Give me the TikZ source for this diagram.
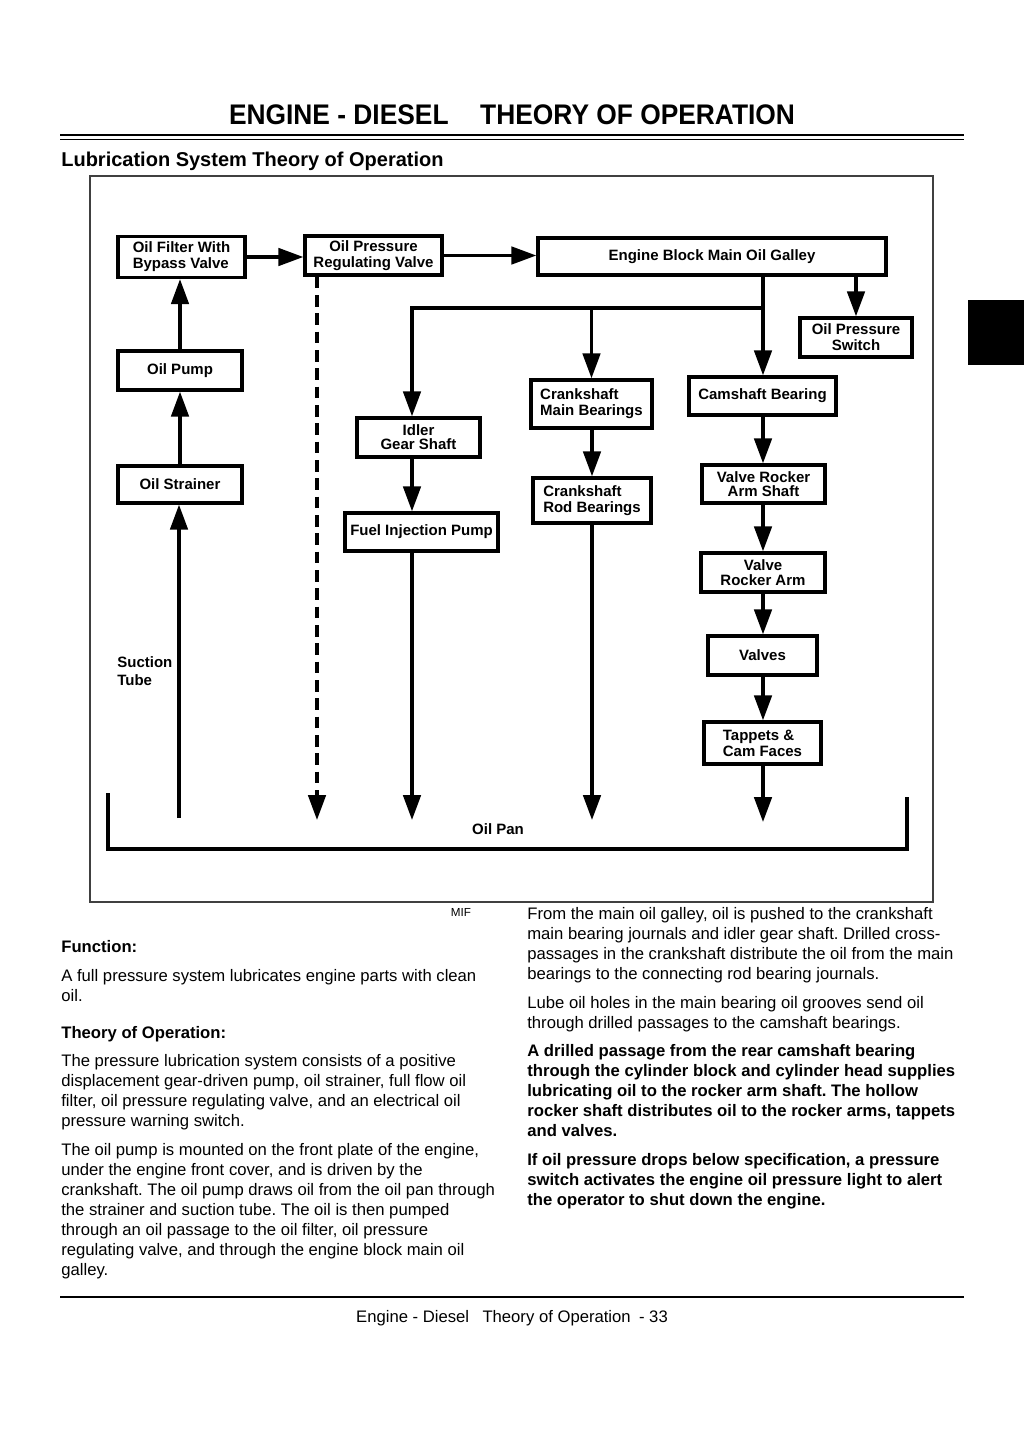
\documentclass[tikz,border=0pt]{standalone}
\usepackage{fontspec}
\setmainfont{Liberation Sans}
\usepackage{graphicx}
\usetikzlibrary{arrows.meta,positioning}
\frenchspacing

\begin{document}
\begin{tikzpicture}[
        x=0.6pt, y=-0.6pt,
        box/.style={draw, line width=2pt, rectangle, inner sep=2pt, align=center,
            font=\fontsize{9}{9.6}\selectfont\bfseries},
        size/.style 2 args={minimum width=#1*0.6pt, minimum height=#2*0.6pt},
        flow/.style={line width=2pt, -{Triangle[length=15pt,width=10.5pt]}},
        para/.style={anchor=north west, align=left, inner sep=0pt,
            font=\fontsize{10}{12}\selectfont},
        tag/.style={font=\fontsize{9}{10.8}\selectfont\bfseries, inner sep=0pt}]

        \useasboundingbox (0,0) rectangle (1024,1449);

        % page header
        \node[font=\fontsize{17}{20}\selectfont\bfseries] (title) at (512,115)
            {\scalebox{0.93}[1]{ENGINE - DIESEL\hspace{1.2em}THEORY OF OPERATION}};
        \draw[line width=1.4pt] (60,135) -- (964,135);
        \draw[line width=1.1pt] (60,139.5) -- (964,139.5);
        \node[font=\fontsize{12}{14}\selectfont\bfseries, anchor=west, inner sep=0pt] (subtitle) at (61,161)
            {Lubrication System Theory of Operation};
        \fill (968,300) rectangle (1024,365);

        % figure frame
        \draw[line width=0.8pt, black!75] (90,176) rectangle (933,902);

        \node[box, size={127}{41}, align=left] (filter) at (181.5,257) {Oil Filter With\\Bypass Valve};
        \node[box, size={137}{39}] (regv) at (373.5,255.5) {Oil Pressure\\Regulating Valve};
        \node[box, size={348}{37}] (galley) at (712,256.5) {Engine Block Main Oil Galley};
        \node[box, size={112}{39}] (pswitch) at (856,337.5) {Oil Pressure\\Switch};
        \node[box, size={124}{39}] (pump) at (180,370.5) {Oil Pump};
        \node[box, size={124}{37}] (strainer) at (180,484.5) {Oil Strainer};
        \node[box, size={121}{48}, align=left] (cmain) at (591.5,404) {Crankshaft\\Main Bearings};
        \node[box, size={147}{38}] (cam) at (762.5,396) {Camshaft Bearing};
        \node[box, size={123}{39}, font=\fontsize{9}{8.4}\selectfont\bfseries] (idler) at (418.5,437.5) {Idler\\Gear Shaft};
        \node[box, size={118}{45}, align=left] (crod) at (592,500.5) {Crankshaft\\Rod Bearings};
        \node[box, size={123}{38}, font=\fontsize{9}{8.4}\selectfont\bfseries] (vras) at (763.5,484) {Valve Rocker\\Arm Shaft};
        \node[box, size={153}{38}] (fip) at (421.5,532) {Fuel Injection Pump};
        \node[box, size={124}{39}, font=\fontsize{9}{8.6}\selectfont\bfseries] (vra) at (763,572.5) {Valve\\Rocker Arm};
        \node[box, size={109}{39}] (valves) at (762.5,655.5) {Valves};
        \node[box, size={117}{42}, align=left] (tappets) at (762.5,743) {Tappets \&\\Cam Faces};

        \coordinate (suction) at (179,818);
        \coordinate (bypass) at (317,820);
        \coordinate (split) at (763,308);
        \coordinate (fipdrop) at (412,820);
        \coordinate (roddrop) at (592,820);
        \coordinate (camdrop) at (763,822);
        \coordinate (panleft) at (108,793);
        \coordinate (panright) at (907,797);
        \coordinate (panbottom) at (500,849);

        % supply side
        \draw[flow] (suction) -- (suction |- strainer.south);
        \draw[flow] (strainer) -- (pump);
        \draw[flow] (pump) -- (pump |- filter.south);
        \draw[flow] (filter.east) -- (filter.east -| regv.west);
        \draw[flow] (regv.east) -- (regv.east -| galley.west);
        \draw[flow, dash pattern=on 7pt off 4pt] (regv.south -| bypass) -- (bypass);

        % galley branches
        \draw[flow] (galley.south -| camdrop) -- (cam.north -| camdrop);
        \draw[flow] (split) -| (idler.north -| fipdrop);
        \draw[flow] (split -| cmain) -- (cmain.north);
        \draw[flow] (galley.south -| pswitch) -- (pswitch.north);

        \draw[flow] (idler.south -| fipdrop) -- (fip.north -| fipdrop);
        \draw[flow] (fip.south -| fipdrop) -- (fipdrop);
        \draw[flow] (cmain.south -| roddrop) -- (crod.north -| roddrop);
        \draw[flow] (crod.south -| roddrop) -- (roddrop);
        \foreach \a/\b in {cam/vras, vras/vra, vra/valves, valves/tappets}
            \draw[flow] (\a.south -| camdrop) -- (\b.north -| camdrop);
        \draw[flow] (tappets.south -| camdrop) -- (camdrop);

        % oil pan
        \draw[line width=2pt] (panleft) |- (panbottom -| panright) -- (panright);
        \node[tag] (oilpan) at (498,829) {Oil Pan};
        \node[tag, align=left, anchor=west] (suctlbl) at (117,671) {Suction\\Tube};

        \node[font=\fontsize{7}{8}\selectfont, inner sep=0pt] (mif) at (461,912) {MIF};

        % text columns
        \node[para, font=\fontsize{10}{12}\selectfont\bfseries] (func) at (61,938) {\strut Function:};
        \node[para] (functext) at (61,967) {\strut A full pressure system lubricates engine parts with clean\\oil.};
        \node[para, font=\fontsize{10}{12}\selectfont\bfseries] (theory) at (61,1024) {\strut Theory of Operation:};
        \node[para] (theoryA) at (61,1052) {\strut The pressure lubrication system consists of a positive\\
            displacement gear-driven pump, oil strainer, full flow oil\\
            filter, oil pressure regulating valve, and an electrical oil\\
            pressure warning switch.};
        \node[para] (theoryB) at (61,1141) {\strut The oil pump is mounted on the front plate of the engine,\\
            under the engine front cover, and is driven by the\\
            crankshaft. The oil pump draws oil from the oil pan through\\
            the strainer and suction tube. The oil is then pumped\\
            through an oil passage to the oil filter, oil pressure\\
            regulating valve, and through the engine block main oil\\
            galley.};

        \node[para] (galleytext) at (527,905) {\strut From the main oil galley, oil is pushed to the crankshaft\\
            main bearing journals and idler gear shaft. Drilled cross-\\
            passages in the crankshaft distribute the oil from the main\\
            bearings to the connecting rod bearing journals.};
        \node[para] (lubetext) at (527,994) {\strut Lube oil holes in the main bearing oil grooves send oil\\
            through drilled passages to the camshaft bearings.};
        \node[para, font=\fontsize{10}{12}\selectfont\bfseries] (rockertext) at (527,1042) {\strut A drilled passage from the rear camshaft bearing\\
            through the cylinder block and cylinder head supplies\\
            lubricating oil to the rocker arm shaft. The hollow\\
            rocker shaft distributes oil to the rocker arms, tappets\\
            and valves.};
        \node[para, font=\fontsize{10}{12}\selectfont\bfseries] (switchtext) at (527,1151) {\strut If oil pressure drops below specification, a pressure\\
            switch activates the engine oil pressure light to alert\\
            the operator to shut down the engine.};

        % page footer
        \draw[line width=1.3pt] (60,1297) -- (964,1297);
        \node[font=\fontsize{10}{12}\selectfont] (footer) at (512,1318)
            {Engine - Diesel\hspace{0.8em}Theory of Operation\hspace{0.5em}- 33};
    \end{tikzpicture}
\end{document}
